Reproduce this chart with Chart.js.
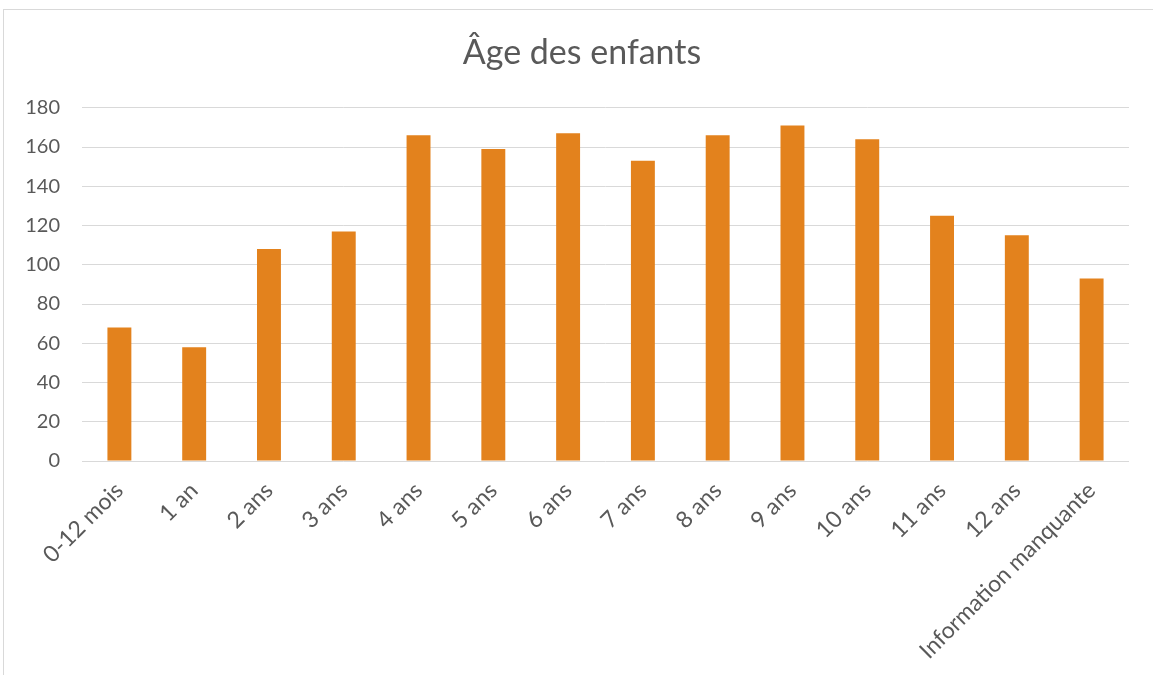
<!DOCTYPE html>
<html>
<head>
<meta charset="utf-8">
<script src="https://cdn.jsdelivr.net/npm/chart.js@4/dist/chart.umd.min.js"></script>
<style>
html,body{margin:0;padding:0;background:#fff;}
#wrap{position:absolute;left:0;top:0;width:1153px;height:675px;}
</style>
</head>
<body>
<div id="wrap"><canvas id="c" width="1153" height="675"></canvas></div>
<script>
const chartTitle = "Âge des enfants";
const categories = ["0-12 mois","1 an","2 ans","3 ans","4 ans","5 ans","6 ans","7 ans","8 ans","9 ans","10 ans","11 ans","12 ans","Information manquante"];
const counts = [68,58,108,117,166,159,167,153,166,171,164,125,115,93];
const yTicks = [0,20,40,60,80,100,120,140,160,180];

const FONT = "Lato, 'Open Sans', sans-serif";
const TXT = "#595959";

const borderPlugin = {
  id: 'frame',
  beforeDraw(chart){
    const ctx = chart.ctx;
    ctx.save();
    ctx.fillStyle = '#fff';
    ctx.fillRect(0,0,chart.width,chart.height);
    ctx.strokeStyle = '#d9d9d9';
    ctx.lineWidth = 1;
    ctx.strokeRect(3.5, 9.5, 1170, 700);
    ctx.restore();
  }
};

new Chart(document.getElementById('c'), {
  type: 'bar',
  data: {
    labels: categories,
    datasets: [{
      data: counts,
      yAxisID: 'y',
      backgroundColor: '#E3821D',
      barPercentage: 0.64,
      categoryPercentage: 0.5
    }]
  },
  options: {
    responsive: false,
    animation: false,
    layout: { padding: { top: 0, left: 11, right: 0, bottom: 0 } },
    plugins: {
      legend: { display: false },
      tooltip: { enabled: false },
      title: {
        display: true,
        text: chartTitle,
        color: TXT,
        font: { family: FONT, size: 34, weight: 'normal', lineHeight: 1.2 },
        padding: { top: 33, bottom: 34 }
      }
    },
    scales: {
      x: {
        grid: { display: false },
        border: { display: false },
        afterFit(axis){ axis.height = 214; },
        ticks: {
          color: TXT,
          font: { family: FONT, size: 23 },
          minRotation: 45,
          maxRotation: 45,
          autoSkip: false,
          padding: 8
        }
      },
      y: {
        position: 'left',
        min: 0,
        max: 180,
        afterBuildTicks(axis){ axis.ticks = yTicks.map(v => ({value: v})); },
        afterFit(axis){ axis.width = 71; },
        grid: { color: '#d9d9d9', lineWidth: 1, drawTicks: false },
        border: { display: false },
        ticks: {
          color: TXT,
          font: { family: FONT, size: 20 },
          padding: 22
        }
      },
      yRight: {
        position: 'right',
        min: 0,
        max: 180,
        afterFit(axis){ axis.width = 24; },
        grid: { display: false },
        border: { display: false },
        ticks: { display: false }
      }
    }
  },
  plugins: [borderPlugin]
});
</script>
</body>
</html>
